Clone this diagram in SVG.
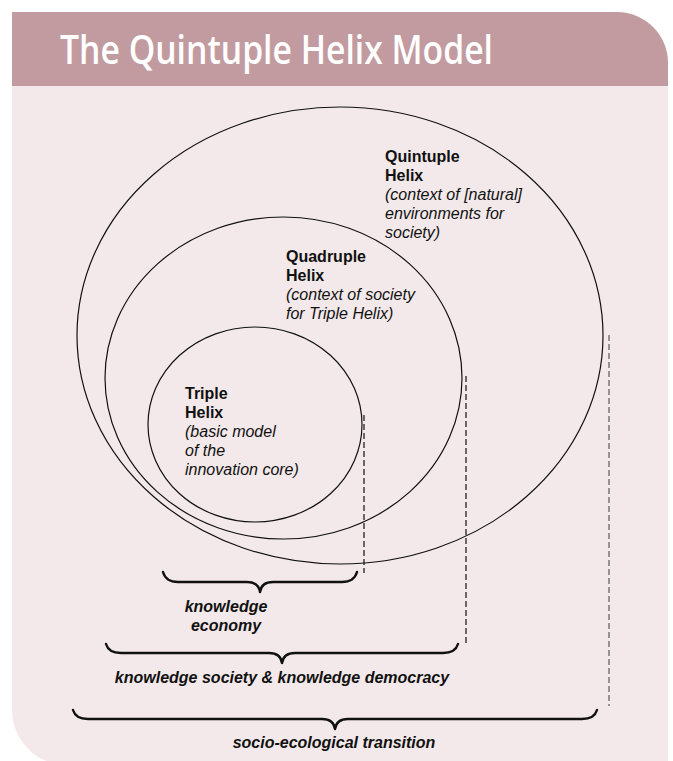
<svg xmlns="http://www.w3.org/2000/svg" width="673" height="761" viewBox="0 0 673 761">
<style>
.title{font-family:"Open Sans","Liberation Sans",sans-serif;font-weight:600;font-size:39px;fill:#ffffff}
.b{font-family:"Liberation Sans",Arial,sans-serif;font-weight:bold;font-size:16px;fill:#111}
.i{font-family:"Liberation Sans",Arial,sans-serif;font-style:italic;font-size:16px;fill:#111}
.bi{font-family:"Liberation Sans",Arial,sans-serif;font-style:italic;font-weight:bold;font-size:16px;fill:#111}
.ring{fill:none;stroke:#111;stroke-width:1.2}
.dash{fill:none;stroke:#111;stroke-width:1.2;stroke-dasharray:6 3}
.dashg{fill:none;stroke:#6e6e6e;stroke-width:1.4;stroke-dasharray:6 3}
.brace{fill:none;stroke:#111;stroke-width:2.4;stroke-linecap:round;stroke-linejoin:round}
</style>
<rect width="673" height="761" fill="#ffffff"/>
<g id="panel">
<path d="M12,12 L617,12 A51,51 0 0 1 668,63 L668,765 L67,765 A55,55 0 0 1 12,710 Z" fill="#f3e9ea"/>
<path d="M12,12 L617,12 A51,51 0 0 1 668,63 L668,86 L12,86 Z" fill="#c29ba0"/>
<text class="title" x="60" y="64" textLength="433" lengthAdjust="spacingAndGlyphs">The Quintuple Helix Model</text>
</g>
<g id="quintuple">
<ellipse class="ring" cx="340" cy="335.5" rx="263" ry="228.5"/>
<text x="385" y="162"><tspan class="b" x="385">Quintuple</tspan><tspan class="b" x="385" dy="19">Helix</tspan><tspan class="i" x="385" dy="19">(context of [natural]</tspan><tspan class="i" x="385" dy="19">environments for</tspan><tspan class="i" x="385" dy="19">society)</tspan></text>
</g>
<g id="quadruple">
<ellipse class="ring" cx="283.5" cy="378" rx="178.5" ry="161"/>
<text x="286" y="262"><tspan class="b" x="286">Quadruple</tspan><tspan class="b" x="286" dy="19">Helix</tspan><tspan class="i" x="286" dy="19">(context of society</tspan><tspan class="i" x="286" dy="19">for Triple Helix)</tspan></text>
</g>
<g id="triple">
<ellipse class="ring" cx="255" cy="424.5" rx="107" ry="97.5"/>
<text x="185" y="399"><tspan class="b" x="185">Triple</tspan><tspan class="b" x="185" dy="19">Helix</tspan><tspan class="i" x="185" dy="19">(basic model</tspan><tspan class="i" x="185" dy="19">of the</tspan><tspan class="i" x="185" dy="19">innovation core)</tspan></text>
</g>
<g id="connectors">
<line class="dash" x1="364" y1="415" x2="364" y2="573"/>
<line class="dash" x1="466" y1="376" x2="466" y2="646"/>
<line class="dashg" x1="609" y1="335" x2="609" y2="706"/>
<path class="brace" d="M163,572 C165,579 170,582 178,582 L247,582 C255,582 259,585 260,592 C261,585 265,582 273,582 L342,582 C350,582 355,579 357,572"/>
<path class="brace" d="M106,644 C108,651 113,653 121,653 L269,653 C277,653 281,656 282,663 C283,656 287,653 295,653 L443,653 C451,653 456,651 458,644"/>
<path class="brace" d="M73,710 C75,717 80,719 88,719 L322,719 C330,719 334,722 335,729 C336,722 340,719 348,719 L582,719 C590,719 595,717 597,710"/>
</g>
<g id="labels">
<text class="bi" x="226" y="612" text-anchor="middle">knowledge</text>
<text class="bi" x="226" y="631" text-anchor="middle">economy</text>
<text class="bi" x="282" y="683" text-anchor="middle">knowledge society &amp; knowledge democracy</text>
<text class="bi" x="334" y="748" text-anchor="middle">socio-ecological transition</text>
</g>
</svg>
